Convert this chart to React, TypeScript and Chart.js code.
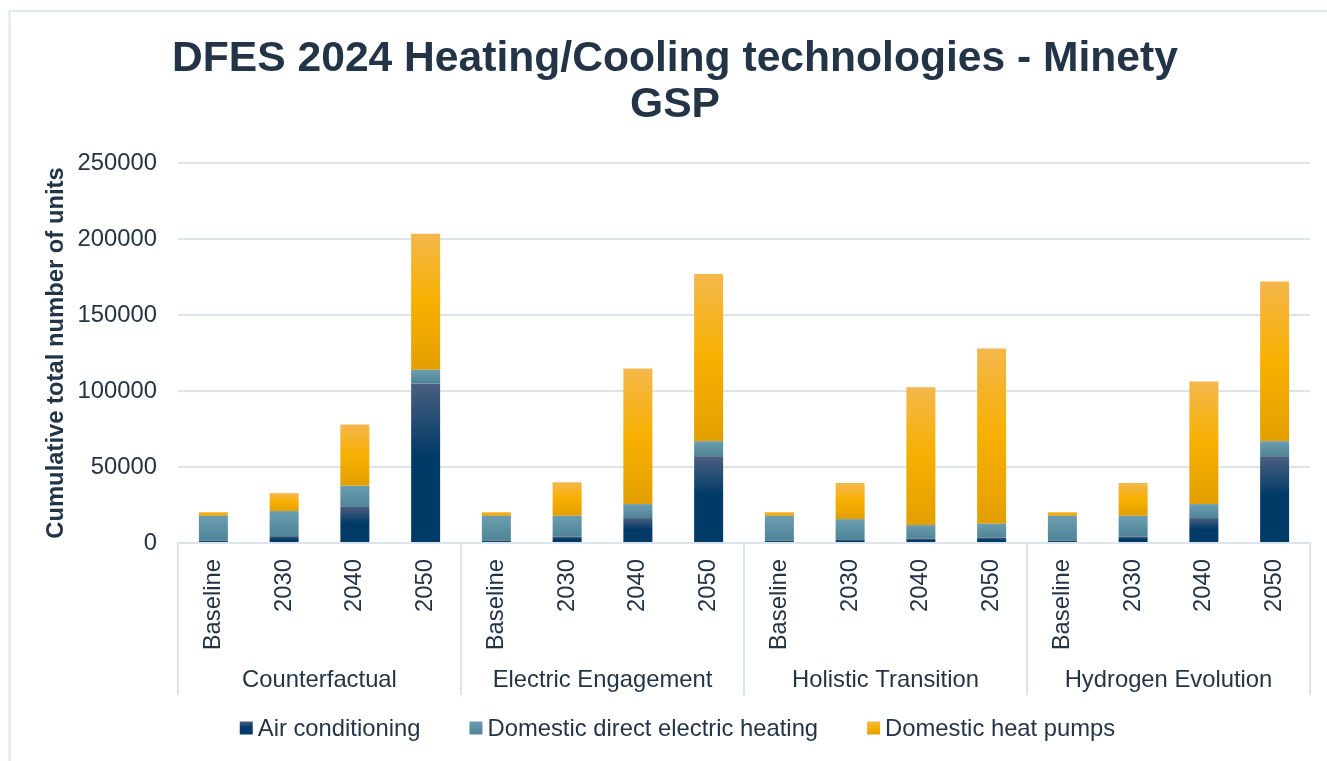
import React, { useEffect, useRef } from "react";
import { Chart, registerables } from "chart.js";

Chart.register(...registerables);

const scenarios = ["Counterfactual", "Electric Engagement", "Holistic Transition", "Hydrogen Evolution"];
const years = ["Baseline", "2030", "2040", "2050"];

const airConditioning = [
  1400, 4500, 23800, 105000,
  1400, 4200, 16400, 57000,
  1400, 2000, 2800, 3500,
  1400, 4200, 16400, 57000,
];
const directElectric = [
  16500, 16500, 13800, 9000,
  16500, 13700, 9200, 10000,
  16500, 13700, 9000, 9200,
  16500, 13700, 9200, 10000,
];
const heatPumps = [
  2400, 11800, 40400, 89400,
  2400, 22100, 89200, 110000,
  2400, 23700, 90600, 115300,
  2400, 21500, 80700, 105000,
];

const seriesNames = ["Air conditioning", "Domestic direct electric heating", "Domestic heat pumps"];
const solidColors = ["#003a66", "#5b8fa1", "#f5ad0a"];
const gradientStops: [number, string][][] = [
  [[0, "#4b5e7f"], [0.45, "#003b67"], [1, "#003a66"]],
  [[0, "#6b9db0"], [1, "#4e8596"]],
  [[0, "#f4b74c"], [0.5, "#f7b000"], [1, "#e39f00"]],
];

const yTicks = [0, 50000, 100000, 150000, 200000, 250000];

const TEXT = "#243447";
const GRID = "#dbe3ec";
const FRAME = "#dfe7ef";
const FONT = "'Liberation Sans', Arial, sans-serif";
const FS = 23.8;

const allSeries = [airConditioning, directElectric, heatPumps];

function makeGradient(c: CanvasRenderingContext2D, k: number, y0: number, y1: number) {
  const g = c.createLinearGradient(0, y0, 0, y1);
  for (const [o, col] of gradientStops[k]) g.addColorStop(o, col);
  return g;
}

function barFill(ctx: any) {
  const ds = ctx.datasetIndex;
  const i = ctx.dataIndex;
  const chart = ctx.chart;
  const y = chart.scales && chart.scales.y;
  if (ctx.type !== "data" || !y || !chart.chartArea || i === undefined) return solidColors[ds];
  let base = 0;
  for (let k = 0; k < ds; k++) base += allSeries[k][i];
  const top = base + allSeries[ds][i];
  const y0 = y.getPixelForValue(top);
  const y1 = y.getPixelForValue(base);
  if (!isFinite(y0) || !isFinite(y1) || y0 === y1) return solidColors[ds];
  return makeGradient(chart.ctx, ds, y0, y1);
}

const framePlugin = {
  id: "frame",
  beforeDraw(chart: any) {
    const c = chart.ctx;
    c.save();
    c.fillStyle = "#ffffff";
    c.fillRect(0, 0, chart.width, chart.height);
    c.strokeStyle = FRAME;
    c.lineWidth = 2;
    c.beginPath();
    c.moveTo(9.5, chart.height);
    c.lineTo(9.5, 11);
    c.lineTo(chart.width, 11);
    c.stroke();
    c.restore();
  },
};

const groupPlugin = {
  id: "groupLabels",
  afterDraw(chart: any) {
    const x = chart.scales.x;
    const c = chart.ctx;
    const top = chart.chartArea.bottom;
    const bottom = x.bottom;
    c.save();
    c.strokeStyle = GRID;
    c.lineWidth = 2;
    for (let g = 0; g <= scenarios.length; g++) {
      const px = Math.round(x.getPixelForValue(g * years.length - 0.5));
      c.beginPath();
      c.moveTo(px, top);
      c.lineTo(px, bottom);
      c.stroke();
    }
    c.fillStyle = TEXT;
    c.font = `${FS}px ${FONT}`;
    c.textAlign = "center";
    c.textBaseline = "middle";
    scenarios.forEach((s, g) => {
      const px = x.getPixelForValue(g * years.length + (years.length - 1) / 2);
      c.fillText(s, px, 680);
    });

    // legend
    const box = 13;
    const gap = 5;
    const itemGap = 49;
    c.font = `${FS}px ${FONT}`;
    const widths = seriesNames.map((n) => c.measureText(n).width);
    const total = widths.reduce((a, w) => a + box + gap + w, 0) + itemGap * (seriesNames.length - 1);
    let lx = 677.5 - total / 2;
    const ly = 729;
    c.textAlign = "left";
    seriesNames.forEach((n, k) => {
      c.fillStyle = makeGradient(c, k, ly - box / 2 - 1, ly + box / 2 - 1);
      c.fillRect(lx, ly - box / 2 - 1, box, box);
      c.fillStyle = TEXT;
      c.fillText(n, lx + box + gap, ly);
      lx += box + gap + widths[k] + itemGap;
    });
    c.restore();
  },
};

export default function App() {
  const ref = useRef<HTMLCanvasElement>(null);
  useEffect(() => {
    if (!ref.current) return;
    const labels: string[] = [];
    scenarios.forEach(() => years.forEach((yv) => labels.push(yv)));
    const chart = new Chart(ref.current, {
      type: "bar",
      data: {
        labels,
        datasets: allSeries.map((data, k) => ({
          label: seriesNames[k],
          data,
          backgroundColor: barFill as any,
          borderWidth: 0,
          barPercentage: 0.41,
          categoryPercentage: 1,
        })),
      },
      options: {
        animation: false,
        responsive: false,
        maintainAspectRatio: false,
        layout: { padding: { left: 40, right: 17, top: 36, bottom: 66 } },
        plugins: {
          tooltip: { enabled: false },
          legend: { display: false },
          title: {
            display: true,
            text: ["DFES 2024 Heating/Cooling technologies - Minety", "GSP"],
            color: TEXT,
            font: { family: FONT, size: 42.6, weight: "bold", lineHeight: 1.08 },
            padding: { top: 0, bottom: 35 },
          },
        },
        scales: {
          x: {
            stacked: true,
            grid: { display: false, drawTicks: false },
            border: { display: true, color: GRID, width: 2 },
            ticks: {
              color: TEXT,
              font: { family: FONT, size: FS },
              minRotation: 90,
              maxRotation: 90,
              autoSkip: false,
              padding: 16,
            },
            afterFit: (s: any) => {
              s.height = 152;
            },
          },
          y: {
            stacked: true,
            min: 0,
            max: 250000,
            afterBuildTicks: (s: any) => {
              s.ticks = yTicks.map((v) => ({ value: v }));
            },
            afterFit: (s: any) => {
              s.width = 178 - 40;
            },
            grid: { color: GRID, lineWidth: 2, drawTicks: false },
            border: { display: false },
            ticks: {
              color: TEXT,
              font: { family: FONT, size: FS },
              padding: 21,
              callback: (v: any) => String(v),
            },
            title: {
              display: true,
              text: "Cumulative total number of units",
              color: TEXT,
              font: { family: FONT, size: FS, weight: "bold" },
              padding: { top: 2, bottom: 8 },
            },
          },
        },
      },
      plugins: [framePlugin, groupPlugin],
    });
    return () => chart.destroy();
  }, []);

  return (
    <div style={{ position: "fixed", left: 0, top: 0, width: 1327, height: 761, background: "#fff", overflow: "hidden" }}>
      <canvas ref={ref} width={1327} height={761} style={{ display: "block", width: 1327, height: 761 }} />
    </div>
  );
}
